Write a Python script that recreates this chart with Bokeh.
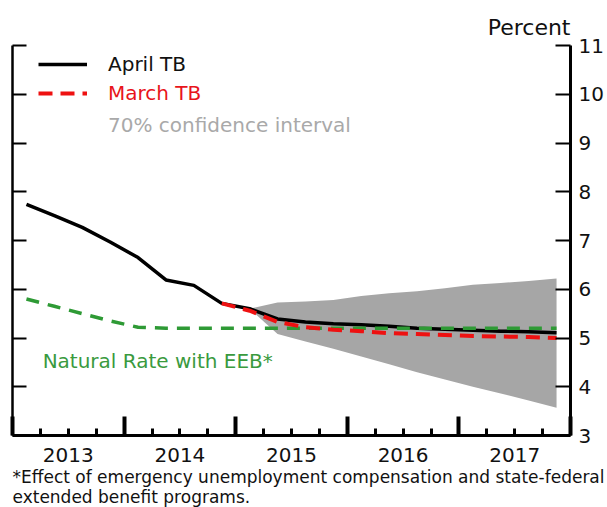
from bokeh.plotting import figure
from bokeh.models import (Range1d, LinearAxis, FixedTicker, Legend, LegendItem,
                          Label, Title, ColumnDataSource)
from bokeh.embed import file_html
from bokeh.resources import INLINE

FONT = "DejaVu Sans"

# ---------------- data ----------------
quarters = ["2013Q1", "2013Q2", "2013Q3", "2013Q4",
            "2014Q1", "2014Q2", "2014Q3", "2014Q4",
            "2015Q1", "2015Q2", "2015Q3", "2015Q4",
            "2016Q1", "2016Q2", "2016Q3", "2016Q4",
            "2017Q1", "2017Q2", "2017Q3", "2017Q4"]

april_tb = [7.74, 7.51, 7.27, 6.97, 6.65, 6.19, 6.08, 5.71,
            5.60, 5.39, 5.33, 5.29, 5.27, 5.24, 5.20, 5.18,
            5.16, 5.14, 5.13, 5.11]

march_quarters = quarters[7:]
march_tb = [5.71, 5.56, 5.33, 5.22, 5.17, 5.14, 5.10, 5.08,
            5.06, 5.04, 5.03, 5.02, 5.00]

natural_rate_eeb = [5.80, 5.65, 5.50, 5.35, 5.22, 5.20, 5.20, 5.20,
                    5.20, 5.20, 5.20, 5.20, 5.20, 5.20, 5.20, 5.20,
                    5.20, 5.20, 5.20, 5.20]

band_quarters = quarters[8:]
ci_upper = [5.60, 5.73, 5.75, 5.78, 5.86, 5.92, 5.96, 6.02, 6.09, 6.13, 6.17, 6.22]
ci_lower = [5.60, 5.08, 4.93, 4.78, 4.62, 4.46, 4.30, 4.15, 4.00, 3.86, 3.72, 3.57]

years = ["2013", "2014", "2015", "2016", "2017"]
y_ticks = [3, 4, 5, 6, 7, 8, 9, 10, 11]

footnote_1 = "*Effect of emergency unemployment compensation and state-federal"
footnote_2 = "extended benefit programs."


def qx(q):
    return int(q[:4]) + (int(q[-1]) - 0.5) / 4.0


# ---------------- figure ----------------
first_year = int(years[0])
last_year = int(years[-1]) + 1

p = figure(width=607, height=507,
           x_range=Range1d(first_year, last_year), y_range=Range1d(y_ticks[0], y_ticks[-1]),
           output_backend="svg", toolbar_location=None,
           min_border_left=12, min_border_right=37, min_border_top=45, min_border_bottom=72)
p.outline_line_color = None
p.xgrid.visible = False
p.ygrid.visible = False
p.background_fill_color = "white"
p.border_fill_color = "white"

p.title.text = "Percent"
p.title.align = "right"
p.title.text_font = FONT
p.title.text_font_size = "22px"
p.title.text_font_style = "normal"
p.title.text_color = "#111111"
p.title.standoff = 12

# left axis: ticks only
la = p.yaxis[0]
la.ticker = FixedTicker(ticks=y_ticks)
la.major_label_overrides = {t: "" for t in y_ticks}
la.major_tick_in = 14
la.major_tick_out = 0
la.minor_tick_in = 0
la.minor_tick_out = 0
la.major_tick_line_width = 2
la.axis_line_width = 2.5
la.major_label_standoff = 0

# right axis with labels
ra = LinearAxis(ticker=FixedTicker(ticks=y_ticks))
ra.major_tick_in = 15
ra.major_tick_out = 0
ra.minor_tick_in = 0
ra.minor_tick_out = 0
ra.major_tick_line_width = 2
ra.axis_line_width = 3
ra.major_label_standoff = 8
ra.major_label_text_font = FONT
ra.major_label_text_font_size = "20px"
ra.major_label_text_color = "#111111"
p.add_layout(ra, "right")

# bottom axis: year boundary ticks + quarter ticks
year_bounds = list(range(first_year, last_year + 1))
quarter_ticks = [y + k / 4.0 for y in range(first_year, last_year) for k in (1, 2, 3)]
xa = p.xaxis[0]
xa.ticker = FixedTicker(ticks=year_bounds, minor_ticks=quarter_ticks)
xa.major_label_overrides = {t: "" for t in year_bounds}
xa.major_tick_in = 19
xa.major_tick_out = 0
xa.major_tick_line_width = 4
xa.minor_tick_in = 7
xa.minor_tick_out = 0
xa.minor_tick_line_width = 3
xa.axis_line_width = 3
xa.major_label_standoff = 0

# year labels centred in each year
year_mid = [int(y) + 0.5 for y in years]
xl = LinearAxis(ticker=FixedTicker(ticks=year_mid),
                major_label_overrides={m: y for m, y in zip(year_mid, years)})
xl.axis_line_color = None
xl.major_tick_line_color = None
xl.minor_tick_line_color = None
xl.major_tick_in = 0
xl.major_tick_out = 0
xl.major_label_standoff = 12
xl.major_label_text_font = FONT
xl.major_label_text_font_size = "20px"
xl.major_label_text_color = "#111111"
p.add_layout(xl, "below")

# ---------------- glyphs ----------------
band_src = ColumnDataSource(dict(x=[qx(q) for q in band_quarters], lo=ci_lower, hi=ci_upper))
p.varea(x="x", y1="lo", y2="hi", source=band_src, fill_color="#a6a6a6")

april_src = ColumnDataSource(dict(x=[qx(q) for q in quarters], y=april_tb))
r_april = p.line("x", "y", source=april_src, line_color="black", line_width=3.5)

nat_src = ColumnDataSource(dict(x=[qx(q) for q in quarters], y=natural_rate_eeb))
p.line("x", "y", source=nat_src, line_color="#2e9a35", line_width=3.5, line_dash="13 9")

march_src = ColumnDataSource(dict(x=[qx(q) for q in march_quarters], y=march_tb))
r_march = p.line("x", "y", source=march_src, line_color="#ee1111", line_width=4, line_dash="14 8")

r_ci = p.line(x=[], y=[], line_color="#a6a6a6", line_width=5)

# ---------------- legends ----------------
def add_legend(label, renderer, color, vy):
    lg = Legend(items=[LegendItem(label=label, renderers=[renderer])],
                location=(26, vy), padding=0, margin=0, spacing=0,
                glyph_width=49, glyph_height=20, label_height=20, label_standoff=21,
                label_text_font=FONT, label_text_font_size="20px", label_text_color=color,
                border_line_color=None, background_fill_alpha=0)
    p.add_layout(lg, "center")

add_legend("April TB", r_april, "#111111", 359)
add_legend("March TB", r_march, "#e8141b", 330)
add_legend("70% confidence interval", r_ci, "#a9a9a9", 298)

p.add_layout(Label(x=2013.27, y=4.52, text="Natural Rate with EEB*", text_baseline="middle",
                   text_font=FONT, text_font_size="20px", text_color="#3a9a3e"))

# ---------------- footnote ----------------
for line, so in ((footnote_1, 0), (footnote_2, -3)):
    t = Title(text=line, align="left", text_font=FONT, text_font_size="17px",
              text_font_style="normal", text_color="#111111", standoff=so, offset=0)
    p.add_layout(t, "below")

open("out.html", "w").write(file_html(p, INLINE))
